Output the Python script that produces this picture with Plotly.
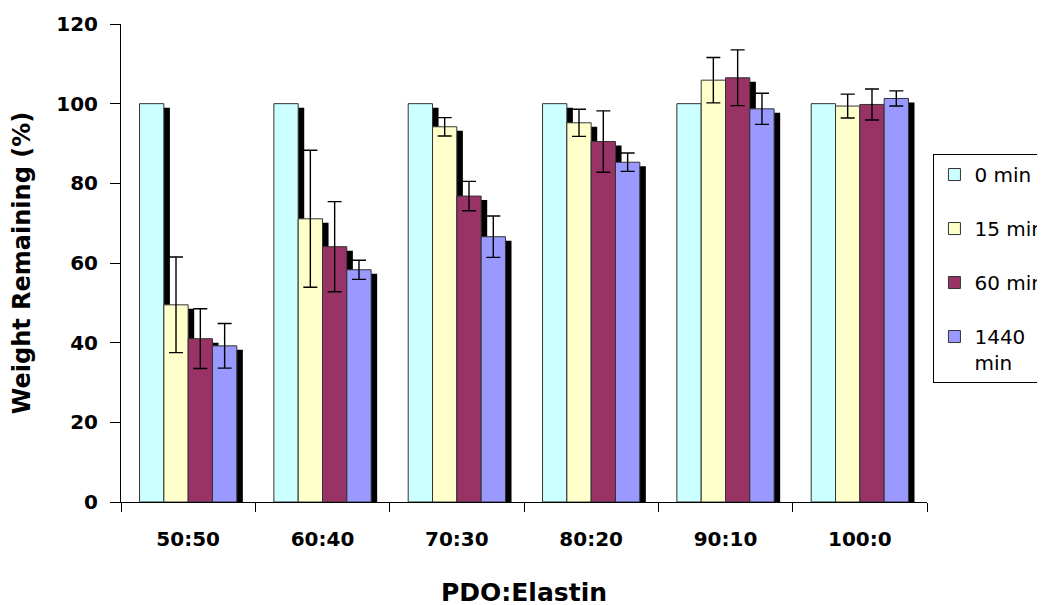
import plotly.graph_objects as go

categories = ["50:50", "60:40", "70:30", "80:20", "90:10", "100:0"]
series_names = ["0 min", "15 min", "60 min", "1440<br>min"]
vals_0 = [100, 100, 100, 100, 100, 100]
vals_15 = [49.5, 71.1, 94.2, 95.2, 105.9, 99.4]
vals_60 = [41.0, 64.1, 76.8, 90.5, 106.5, 99.8]
vals_1440 = [39.2, 58.3, 66.6, 85.3, 98.7, 101.3]
err_0 = [0, 0, 0, 0, 0, 0]
err_15 = [12.0, 17.2, 2.3, 3.4, 5.7, 3.0]
err_60 = [7.5, 11.3, 3.7, 7.7, 7.0, 3.9]
err_1440 = [5.6, 2.4, 5.2, 2.3, 3.9, 1.9]

colors = ["#CCFFFF", "#FFFFCC", "#993366", "#9999FF"]
values = [vals_0, vals_15, vals_60, vals_1440]
errors = [err_0, err_15, err_60, err_1440]

BAR_W = 0.181
OFFSETS = [-0.362, -0.181, 0.0, 0.181]
SHADOW_DX = 0.045
SHADOW_DROP = 1.0

fig = go.Figure()

# shadows behind
for vals, off in zip(values, OFFSETS):
    fig.add_trace(go.Bar(
        x=categories, y=[v - SHADOW_DROP for v in vals],
        width=BAR_W, offset=off + SHADOW_DX,
        marker=dict(color="black", line=dict(width=0)),
        showlegend=False, hoverinfo="skip",
    ))

for i, (name, vals, errs, col, off) in enumerate(zip(series_names, values, errors, colors, OFFSETS)):
    has_err = any(e > 0 for e in errs)
    fig.add_trace(go.Bar(
        x=categories, y=vals, name=name,
        width=BAR_W, offset=off,
        marker=dict(color=col, line=dict(color="#333333", width=1)),
        error_y=dict(type="data", array=errs, visible=has_err,
                     color="black", thickness=1.4, width=7),
        legendgroup="g%d" % i,
    ))

font_fam = "DejaVu Sans, Arial, sans-serif"

fig.update_layout(
    width=1045, height=605,
    barmode="overlay",
    plot_bgcolor="white", paper_bgcolor="white",
    margin=dict(l=113, r=126, t=16, b=111, autoexpand=False),
    font=dict(family=font_fam, color="black"),
    showlegend=True,
    legend=dict(
        x=1.008, y=0.728, xanchor="left", yanchor="top",
        bordercolor="black", borderwidth=1, bgcolor="white",
        font=dict(family=font_fam, size=20, color="black"),
        tracegroupgap=25, traceorder="grouped", valign="top",
    ),
)

fig.update_xaxes(
    type="category", range=[-0.5, 5.5],
    showline=True, linecolor="black", linewidth=1,
    ticks="outside", tickson="boundaries", ticklen=9, tickcolor="black",
    tickfont=dict(family=font_fam, size=20, color="black", weight="bold"),
    ticklabelstandoff=19,
    title=dict(text="<b>PDO:Elastin</b>", font=dict(family=font_fam, size=25, color="black"), standoff=33),
    showgrid=False, fixedrange=True,
)
fig.update_yaxes(
    range=[0, 120], dtick=20,
    showline=True, linecolor="black", linewidth=1,
    ticks="outside", ticklen=10, tickcolor="black",
    tickfont=dict(family=font_fam, size=20, color="black", weight="bold"),
    ticklabelstandoff=8,
    title=dict(text="<b>Weight Remaining (%)</b>", font=dict(family=font_fam, size=24, color="black"), standoff=24),
    showgrid=False, zeroline=False, fixedrange=True,
)

fig.write_html("out.html")
